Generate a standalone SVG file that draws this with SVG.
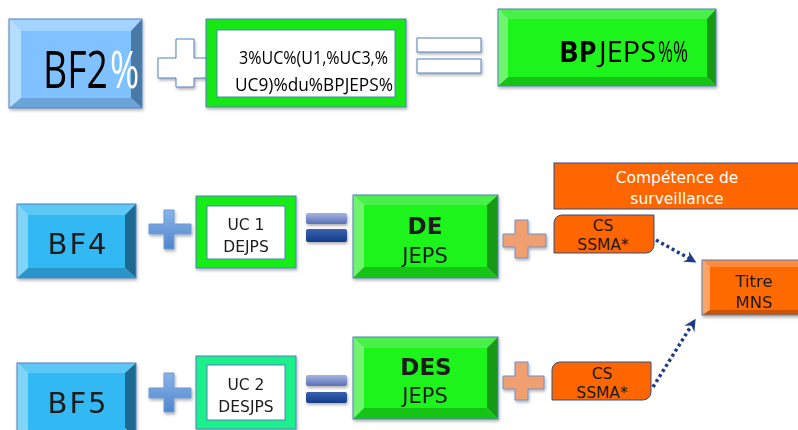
<svg xmlns="http://www.w3.org/2000/svg" width="798" height="430" viewBox="0 0 798 430">
<defs>
<style>
text{font-family:"Open Sans","Liberation Sans",sans-serif;}
.dv{font-family:"DejaVu Sans","Liberation Sans",sans-serif;}
.ol{stroke:#4f81bd;stroke-width:1;}
.b2m{fill:#7fc2ff}.b2t{fill:#a3d4ff}.b2l{fill:#b5ddff}.b2r{fill:#4a79a6}.b2b{fill:#6aa3d8}
.bm{fill:#33b9f4}.bt{fill:#5cc8f6}.bl{fill:#80d4f8}.br{fill:#1e6a92}.bb{fill:#2a95c8}
.gm{fill:#1ff41f}.gt{fill:#48f048}.gl{fill:#70f470}.gr{fill:#149a14}.gb{fill:#18c418}
.om{fill:#ff6a00}.ot{fill:#ff8a3a}.ol2{fill:#ffa466}.ob{fill:#cc5200}
.orange{fill:#ff6600;stroke:#2f4f8f;stroke-width:1;}
.dots{fill:none;stroke:#1f3c88;stroke-width:3.5;stroke-dasharray:3 3;}
.lbl{fill:#1a1a1a;text-anchor:middle;}
</style>
<linearGradient id="gPlus" x1="0" y1="0" x2="0" y2="1"><stop offset="0" stop-color="#8ab4e8"/><stop offset="1" stop-color="#4f86cc"/></linearGradient>
<linearGradient id="gEqT" x1="0" y1="0" x2="0" y2="1"><stop offset="0" stop-color="#a6b6e0"/><stop offset="1" stop-color="#5a70b8"/></linearGradient>
<linearGradient id="gEqB" x1="0" y1="0" x2="0" y2="1"><stop offset="0" stop-color="#3a62b0"/><stop offset="1" stop-color="#153c88"/></linearGradient>
<filter id="sh" x="-10%" y="-10%" width="130%" height="140%"><feDropShadow dx="1" dy="2" stdDeviation="1.5" flood-color="#000" flood-opacity="0.3"/></filter>
<marker id="ah" markerWidth="14" markerHeight="14" refX="7" refY="7" orient="auto" markerUnits="userSpaceOnUse" viewBox="0 0 14 14"><path d="M0,1 L12,7 L0,13 L4,7 Z" fill="#1f3c88"/></marker>
</defs>

<g id="connectors">
<path class="dots" d="M656,240 L692,260" marker-end="url(#ah)"/>
<path class="dots" d="M653,387 L693,323" marker-end="url(#ah)"/>
</g>

<!-- Top row -->
<g id="bf2" filter="url(#sh)">
<polygon class="b2t" points="9,19 142,19 131,31 21,31"/>
<polygon class="b2l" points="9,19 21,31 21,98 9,108"/>
<polygon class="b2r" points="142,19 142,108 131,98 131,31"/>
<polygon class="b2b" points="9,108 21,98 131,98 142,108"/>
<rect class="b2m" x="21" y="31" width="110" height="67"/>
<rect x="9" y="19" width="133" height="89" fill="none" class="ol"/>
<text transform="translate(43,88) scale(0.72,1)" font-size="52" fill="#000">BF2</text>
<text transform="translate(110,88) scale(0.68,1)" font-size="52" fill="#fff">%</text>
</g>

<g id="plus1" filter="url(#sh)">
<polygon points="176,39 194,39 194,58 207,58 207,78 194,78 194,87 176,87 176,78 158,78 158,58 176,58" fill="#fff" class="ol" stroke-width="1.5"/>
</g>

<g id="uc-bp" filter="url(#sh)">
<rect x="206" y="19" width="200" height="88" fill="#14e814" class="ol"/>
<rect x="217" y="30" width="178" height="67" fill="#fff" class="ol"/>
<text x="239" y="64" font-size="19" fill="#000" textLength="149" lengthAdjust="spacingAndGlyphs">3%UC%(U1,%UC3,%</text>
<text x="235" y="91" font-size="19" fill="#000" textLength="158" lengthAdjust="spacingAndGlyphs">UC9)%du%BPJEPS%</text>
</g>

<g id="eq1" filter="url(#sh)">
<rect x="417" y="38" width="64" height="14" fill="#fff" class="ol"/>
<rect x="417" y="59" width="64" height="14" fill="#fff" class="ol"/>
</g>

<g id="bpjeps" filter="url(#sh)">
<polygon class="gt" points="498,9 716,9 707,19 508,19"/>
<polygon class="gl" points="498,9 508,19 508,77 498,86"/>
<polygon class="gr" points="716,9 716,86 707,77 707,19"/>
<polygon class="gb" points="498,86 508,77 707,77 716,86"/>
<rect class="gm" x="508" y="19" width="199" height="58"/>
<rect x="498" y="9" width="218" height="77" fill="none" class="ol"/>
<text x="559" y="62" font-size="29" font-weight="bold" fill="#000">BP</text>
<text x="599" y="62" font-size="29" fill="#000" textLength="57" lengthAdjust="spacingAndGlyphs">JEPS</text>
<text x="658" y="62" font-size="29" fill="#000" textLength="30" lengthAdjust="spacingAndGlyphs">%%</text>
</g>

<!-- Row 2 -->
<g id="bf4" filter="url(#sh)">
<polygon class="bt" points="17,204 136,204 125,215 28,215"/>
<polygon class="bl" points="17,204 28,215 28,268 17,278"/>
<polygon class="br" points="136,204 136,278 125,268 125,215"/>
<polygon class="bb" points="17,278 28,268 125,268 136,278"/>
<rect class="bm" x="28" y="215" width="97" height="53"/>
<rect x="17" y="204" width="119" height="74" fill="none" class="ol"/>
<text class="lbl dv" x="78" y="254" font-size="29" letter-spacing="2">BF4</text>
</g>

<g id="plus2" filter="url(#sh)">
<polygon points="164,210 174,210 174,224 191,224 191,234 174,234 174,249 164,249 164,234 149,234 149,224 164,224" fill="url(#gPlus)" stroke="#6f9ad6" stroke-width="1"/>
</g>

<g id="uc1" filter="url(#sh)">
<rect x="196" y="196" width="100" height="72" fill="#14ec14" class="ol"/>
<rect x="207" y="206" width="78" height="53" fill="#fff" class="ol"/>
<text class="lbl dv" x="246" y="230" font-size="15.5">UC 1</text>
<text class="lbl dv" x="246" y="252" font-size="15.5">DEJPS</text>
</g>

<g id="eq2" filter="url(#sh)">
<rect x="306" y="213" width="41" height="11" rx="2" fill="url(#gEqT)"/>
<rect x="306" y="229" width="41" height="13" rx="2" fill="url(#gEqB)"/>
</g>

<g id="dejeps" filter="url(#sh)">
<polygon class="gt" points="353,195 498,195 487,205 364,205"/>
<polygon class="gl" points="353,195 364,205 364,267 353,278"/>
<polygon class="gr" points="498,195 498,278 487,267 487,205"/>
<polygon class="gb" points="353,278 364,267 487,267 498,278"/>
<rect class="gm" x="364" y="205" width="123" height="62"/>
<rect x="353" y="195" width="145" height="83" fill="none" class="ol"/>
<text class="lbl dv" x="425" y="234" font-size="23" font-weight="bold" fill="#000">DE</text>
<text class="lbl dv" x="425" y="263" font-size="21">JEPS</text>
</g>

<g id="plus3" filter="url(#sh)">
<polygon points="515,220 528,220 528,234 546,234 546,247 528,247 528,258 515,258 515,247 503,247 503,234 515,234" fill="#f0a070" stroke="#6f8fc8" stroke-width="1"/>
</g>

<g id="competence">
<rect x="554" y="163" width="250" height="46" class="orange"/>
<text class="dv" x="677" y="183" font-size="15.5" fill="#fff" text-anchor="middle">Compétence de</text>
<text class="dv" x="677" y="204" font-size="15.5" fill="#fff" text-anchor="middle">surveillance</text>
</g>

<g id="cs1">
<path d="M562,215 H654 V245 A8,8 0 0 1 646,253 H554 V223 A8,8 0 0 1 562,215 Z" class="orange"/>
<text class="lbl dv" x="603" y="231" font-size="15.5">CS</text>
<text class="lbl dv" x="603" y="250" font-size="15.5">SSMA*</text>
</g>

<g id="titre" filter="url(#sh)">
<polygon class="ot" points="702,260 810,260 800,267 710,267"/>
<polygon class="ol2" points="702,260 710,267 710,310 702,315"/>
<polygon class="ob" points="702,315 710,310 800,310 810,315"/>
<rect class="om" x="710" y="267" width="90" height="43"/>
<rect x="702" y="260" width="110" height="55" fill="none" class="ol"/>
<text class="lbl dv" x="754" y="287" font-size="16.5">Titre</text>
<text class="lbl dv" x="754" y="308" font-size="16.5">MNS</text>
</g>

<!-- Row 3 -->
<g id="bf5" filter="url(#sh)">
<polygon class="bt" points="17,363 136,363 125,373 28,373"/>
<polygon class="bl" points="17,363 28,373 28,428 17,438"/>
<polygon class="br" points="136,363 136,438 125,428 125,373"/>
<rect class="bm" x="28" y="373" width="97" height="60"/>
<rect x="17" y="363" width="119" height="75" fill="none" class="ol"/>
<text class="lbl dv" x="78" y="413" font-size="29" letter-spacing="2">BF5</text>
</g>

<g id="plus4" filter="url(#sh)">
<polygon points="164,373 174,373 174,388 191,388 191,398 174,398 174,412 164,412 164,398 149,398 149,388 164,388" fill="url(#gPlus)" stroke="#6f9ad6" stroke-width="1"/>
</g>

<g id="uc2" filter="url(#sh)">
<rect x="196" y="356" width="100" height="73" fill="#1ff08a" class="ol"/>
<rect x="207" y="365" width="78" height="55" fill="#fff" class="ol"/>
<text class="lbl dv" x="246" y="390" font-size="15.5">UC 2</text>
<text class="lbl dv" x="246" y="412" font-size="15.5">DESJPS</text>
</g>

<g id="eq3" filter="url(#sh)">
<rect x="306" y="375" width="41" height="11" rx="2" fill="url(#gEqT)"/>
<rect x="306" y="392" width="41" height="11" rx="2" fill="url(#gEqB)"/>
</g>

<g id="desjeps" filter="url(#sh)">
<polygon class="gt" points="353,337 498,337 487,348 364,348"/>
<polygon class="gl" points="353,337 364,348 364,408 353,419"/>
<polygon class="gr" points="498,337 498,419 487,408 487,348"/>
<polygon class="gb" points="353,419 364,408 487,408 498,419"/>
<rect class="gm" x="364" y="348" width="123" height="60"/>
<rect x="353" y="337" width="145" height="82" fill="none" class="ol"/>
<text class="lbl dv" x="426" y="375" font-size="23" font-weight="bold" fill="#000">DES</text>
<text class="lbl dv" x="425" y="403" font-size="21">JEPS</text>
</g>

<g id="plus5" filter="url(#sh)">
<polygon points="515,362 528,362 528,376 544,376 544,389 528,389 528,400 515,400 515,389 503,389 503,376 515,376" fill="#f0a070" stroke="#6f8fc8" stroke-width="1"/>
</g>

<g id="cs2">
<path d="M560,362 H651 V392 A8,8 0 0 1 643,400 H552 V370 A8,8 0 0 1 560,362 Z" class="orange"/>
<text class="lbl dv" x="602" y="379" font-size="15.5">CS</text>
<text class="lbl dv" x="602" y="398" font-size="15.5">SSMA*</text>
</g>
</svg>
